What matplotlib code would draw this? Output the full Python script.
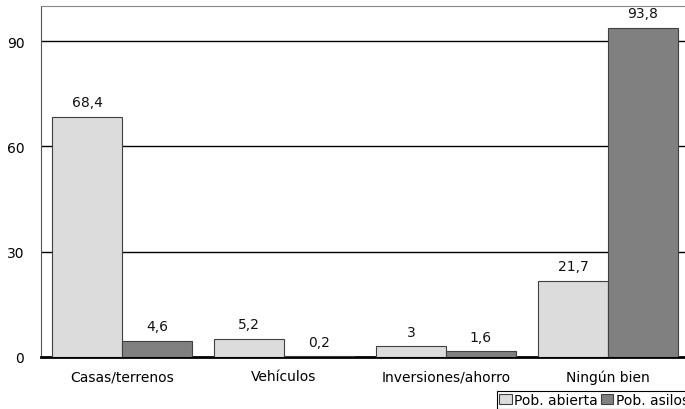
import matplotlib
matplotlib.use("Agg")
import matplotlib.pyplot as plt
import numpy as np

categories = ["Casas/terrenos", "Vehículos", "Inversiones/ahorro", "Ningún bien"]
abierta = [68.4, 5.2, 3, 21.7]
asilos = [4.6, 0.2, 1.6, 93.8]
series_names = ["Pob. abierta", "Pob. asilos"]
yticks = [0, 30, 60, 90]

def fmt(v):
    s = ("%g" % v).replace(".", ",")
    return s

plt.rcParams['font.family'] = ['DejaVu Sans']
fig = plt.figure(figsize=(6.85, 4.10), dpi=100)
ax = fig.add_axes([41/685, 1-358/410, 648/685, (358-7)/410])

x = np.arange(len(categories))
w = 0.43
b1 = ax.bar(x - w/2, abierta, w, color="#dcdcdc", edgecolor="#404040", linewidth=0.8, label=series_names[0], zorder=3)
b2 = ax.bar(x + w/2, asilos, w, color="#808080", edgecolor="#404040", linewidth=0.8, label=series_names[1], zorder=3)

for bars, vals in ((b1, abierta), (b2, asilos)):
    for r, v in zip(bars, vals):
        ax.text(r.get_x() + r.get_width()/2, v + 2.2, fmt(v), ha="center", va="bottom", fontsize=10, color="#111111")

ax.set_xlim(-0.5, len(categories) - 0.5)
ax.set_ylim(0, 100)
ax.set_yticks(yticks)
ax.set_yticklabels([str(t) for t in yticks], fontsize=10)
ax.set_xticks(x)
ax.set_xticklabels(categories, fontsize=10)
ax.tick_params(axis="x", length=0, pad=9)
ax.tick_params(axis="y", length=0, pad=12)
for t in yticks[1:]:
    ax.axhline(t, color="black", linewidth=1.0, zorder=1)
ax.spines["bottom"].set_linewidth(2.0)
ax.spines["bottom"].set_color("black")
ax.spines["left"].set_color("#555555")
ax.spines["top"].set_color("#888888")
ax.spines["right"].set_visible(False)

leg = fig.legend(handles=[b1, b2], labels=series_names, loc="upper left",
                 bbox_to_anchor=(497/685, 1-392/410), ncol=2, fontsize=10,
                 frameon=True, fancybox=False, edgecolor="black", framealpha=1,
                 handlelength=0.9, handleheight=0.7, handletextpad=0.2,
                 columnspacing=0.2, borderpad=0.15, borderaxespad=0)
leg.get_frame().set_linewidth(0.8)

fig.savefig("out.png", dpi=100)
